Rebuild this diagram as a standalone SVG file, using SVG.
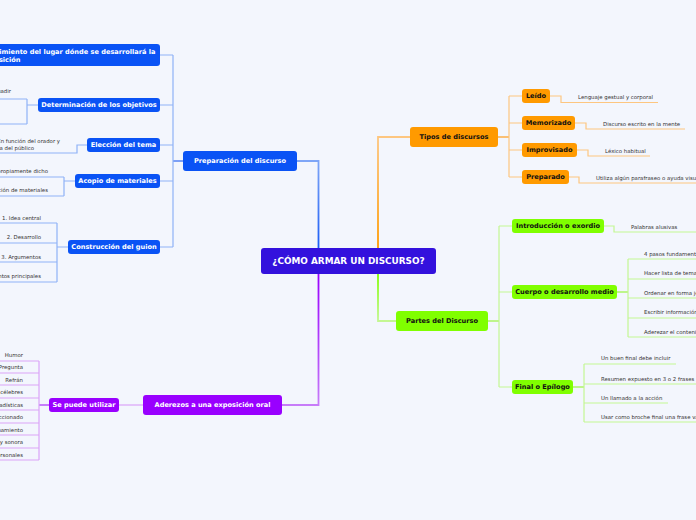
<svg xmlns="http://www.w3.org/2000/svg" width="696" height="520" viewBox="0 0 696 520">
<defs>
<style>
.bg{fill:#f3f6fd}
.nb{fill:#0a53f5}
.no{fill:#ff9a00}
.ng{fill:#80ff00}
.np{fill:#9900ff}
.nc{fill:#3311dd}
.tw{font-family:"DejaVu Sans",Verdana,sans-serif;font-weight:bold;font-size:6.6px;fill:#ffffff}
.tk{font-family:"DejaVu Sans",Verdana,sans-serif;font-weight:bold;font-size:6.6px;fill:#111111}
.tc{font-family:"DejaVu Sans",Verdana,sans-serif;font-weight:bold;font-size:8.9px;fill:#ffffff}
.tl{font-family:"DejaVu Sans",Verdana,sans-serif;font-size:5.4px;fill:#333333}
.cb{fill:none;stroke:#8fb2f7;stroke-width:1.2}
.cbd{fill:none;stroke:#4a7cf3;stroke-width:1.4}
.co{fill:none;stroke:#fdc680;stroke-width:1.2}
.cod{fill:none;stroke:#fcaa3a;stroke-width:1.4}
.cg{fill:none;stroke:#c4f793;stroke-width:1.2}
.cgd{fill:none;stroke:#a6f55a;stroke-width:1.4}
.cp{fill:none;stroke:#dba4f8;stroke-width:1.2}
.cpd{fill:none;stroke:#b24cf9;stroke-width:1.4}
</style>
<linearGradient id="gB" gradientUnits="userSpaceOnUse" x1="0" y1="248" x2="0" y2="161"><stop offset="0" stop-color="#1a5cf6"/><stop offset="1" stop-color="#7fa6f7"/></linearGradient>
<linearGradient id="gO" gradientUnits="userSpaceOnUse" x1="0" y1="248" x2="0" y2="137"><stop offset="0" stop-color="#ff9a00"/><stop offset="1" stop-color="#fdc680"/></linearGradient>
<linearGradient id="gG" gradientUnits="userSpaceOnUse" x1="0" y1="274" x2="0" y2="321"><stop offset="0" stop-color="#80ff00"/><stop offset="1" stop-color="#c4f793"/></linearGradient>
<linearGradient id="gP" gradientUnits="userSpaceOnUse" x1="0" y1="274" x2="0" y2="405"><stop offset="0" stop-color="#9900ff"/><stop offset="1" stop-color="#c77cf9"/></linearGradient>
</defs>
<rect class="bg" x="0" y="0" width="696" height="520"/>

<g id="connectors">
<path d="M318.5,248 V161 H297" fill="none" stroke="url(#gB)" stroke-width="1.8"/>
<path d="M378,248 V137 H410" fill="none" stroke="url(#gO)" stroke-width="1.8"/>
<path d="M378,274 V321 H396" fill="none" stroke="url(#gG)" stroke-width="1.8"/>
<path d="M318.5,274 V405 H282" fill="none" stroke="url(#gP)" stroke-width="1.8"/>

<path class="cbd" d="M183,161 H173"/>
<path class="cb" d="M173,55 V247 M173,55 H160 M173,105 H160 M173,145 H160 M173,181 H160 M173,247 H160"/>
<path class="cb" d="M38,105 H27 M27,99 V124 M-5,99 H27 M-5,124 H27"/>
<path class="cb" d="M87,145 H77 V153 H-5"/>
<path class="cb" d="M75,181 H64 M64,177 V196 M-5,177 H64 M-5,196 H64"/>
<path class="cb" d="M68,247 H57 M57,223 V282 M-5,223 H57 M-5,243 H57 M-5,262 H57 M-5,282 H57"/>

<path class="cp" d="M143,405 H119"/>
<path class="cpd" d="M49,405 H39"/>
<path class="cp" d="M39,361 V460 M-5,361 H39 M-5,373 H39 M-5,385 H39 M-5,398 H39 M-5,410 H39 M-5,423 H39 M-5,435 H39 M-5,448 H39 M-5,460 H39"/>

<path class="cod" d="M498,137 H509"/>
<path class="co" d="M509,96 V177 M509,96 H522 M509,123 H522 M509,150 H522 M509,177 H522"/>
<path class="co" d="M550,96 H561 V102.5 H658"/>
<path class="co" d="M575,123 H586 V129 H685"/>
<path class="co" d="M577,150 H588 V156 H650"/>
<path class="co" d="M569,177 H579 V183 H700"/>

<path class="cgd" d="M488,321 H499"/>
<path class="cg" d="M499,226 V387 M499,226 H512 M499,292 H512 M499,387 H512"/>
<path class="cg" d="M604,226 H614 V232 H700"/>
<path class="cgd" d="M617,292 H628"/>
<path class="cg" d="M628,259 V337 M628,259 H700 M628,279 H700 M628,298 H700 M628,318 H700 M628,337 H700"/>
<path class="cgd" d="M573,387 H584"/>
<path class="cg" d="M584,364 V422 M584,364 H676 M584,384 H700 M584,403 H668 M584,422 H700"/>
</g>

<g id="central"><rect class="nc" x="261" y="248" width="175" height="26" rx="3"/><text class="tc" x="348.5" y="264.2" text-anchor="middle">¿CÓMO ARMAR UN DISCURSO?</text></g>

<g id="preparacion"><rect class="nb" x="183" y="151" width="114" height="20" rx="3"/><text class="tw" x="240" y="163.4" text-anchor="middle">Preparación del discurso</text></g>
<g id="conocimiento"><rect class="nb" x="-30" y="44" width="190" height="22" rx="3"/><text class="tw" x="155.5" y="53.9" text-anchor="end">Conocimiento del lugar dónde se desarrollará la</text><text class="tw" x="20.5" y="61.7" text-anchor="end">exposición</text></g>
<g id="objetivos"><rect class="nb" x="38" y="98" width="122" height="14" rx="3"/><text class="tw" x="99" y="107.4" text-anchor="middle">Determinación de los objetivos</text></g>
<g id="leaf-persuadir"><text class="tl" x="11" y="93" text-anchor="end">Persuadir</text></g>
<g id="tema"><rect class="nb" x="87" y="138" width="73" height="14" rx="3"/><text class="tw" x="123.5" y="147.4" text-anchor="middle">Elección del tema</text></g>
<g id="leaf-funcion"><text class="tl" x="60" y="143" text-anchor="end">En función del orador y</text><text class="tl" x="34" y="150.2" text-anchor="end">la del público</text></g>
<g id="acopio"><rect class="nb" x="75" y="174" width="85" height="14" rx="3"/><text class="tw" x="117.5" y="183.4" text-anchor="middle">Acopio de materiales</text></g>
<g id="leaf-acopio1"><text class="tl" x="48" y="173" text-anchor="end">Acopio propiamente dicho</text></g>
<g id="leaf-acopio2"><text class="tl" x="48" y="192" text-anchor="end">Selección de materiales</text></g>
<g id="guion"><rect class="nb" x="68" y="240" width="92" height="14" rx="3"/><text class="tw" x="114" y="249.4" text-anchor="middle">Construcción del guion</text></g>
<g id="leaf-g1"><text class="tl" x="41" y="219.5" text-anchor="end">1. Idea central</text></g>
<g id="leaf-g2"><text class="tl" x="41" y="239" text-anchor="end">2. Desarrollo</text></g>
<g id="leaf-g3"><text class="tl" x="41" y="258.5" text-anchor="end">3. Argumentos</text></g>
<g id="leaf-g4"><text class="tl" x="41" y="278" text-anchor="end">4. Puntos principales</text></g>

<g id="aderezos"><rect class="np" x="143" y="395" width="139" height="20" rx="3"/><text class="tw" x="212.5" y="407.4" text-anchor="middle">Aderezos a una exposición oral</text></g>
<g id="sepuede"><rect class="np" x="49" y="398" width="70" height="14" rx="3"/><text class="tw" x="84" y="407.4" text-anchor="middle">Se puede utilizar</text></g>
<g id="leaf-a1"><text class="tl" x="23" y="357" text-anchor="end">Humor</text></g>
<g id="leaf-a2"><text class="tl" x="23" y="369" text-anchor="end">Pregunta</text></g>
<g id="leaf-a3"><text class="tl" x="23" y="381.5" text-anchor="end">Refrán</text></g>
<g id="leaf-a4"><text class="tl" x="23" y="394" text-anchor="end">Frases célebres</text></g>
<g id="leaf-a5"><text class="tl" x="23" y="406.5" text-anchor="end">Estadísticas</text></g>
<g id="leaf-a6"><text class="tl" x="23" y="419" text-anchor="end">Ejemplo seleccionado</text></g>
<g id="leaf-a7"><text class="tl" x="23" y="431.5" text-anchor="end">Razonamiento</text></g>
<g id="leaf-a8"><text class="tl" x="23" y="444" text-anchor="end">Ayuda visual y sonora</text></g>
<g id="leaf-a9"><text class="tl" x="23" y="456.5" text-anchor="end">Anécdotas personales</text></g>

<g id="tipos"><rect class="no" x="410" y="127" width="88" height="20" rx="3"/><text class="tk" x="454" y="139.4" text-anchor="middle">Tipos de discursos</text></g>
<g id="leido"><rect class="no" x="522" y="89" width="28" height="14" rx="3"/><text class="tk" x="536" y="98.4" text-anchor="middle">Leído</text></g>
<g id="memorizado"><rect class="no" x="522" y="116" width="53" height="14" rx="3"/><text class="tk" x="548.5" y="125.4" text-anchor="middle">Memorizado</text></g>
<g id="improvisado"><rect class="no" x="522" y="143" width="55" height="14" rx="3"/><text class="tk" x="549.5" y="152.4" text-anchor="middle">Improvisado</text></g>
<g id="preparado"><rect class="no" x="522" y="170" width="47" height="14" rx="3"/><text class="tk" x="545.5" y="179.4" text-anchor="middle">Preparado</text></g>
<g id="leaf-o1"><text class="tl" x="578" y="99">Lenguaje gestual y corporal</text></g>
<g id="leaf-o2"><text class="tl" x="603" y="126">Discurso escrito en la mente</text></g>
<g id="leaf-o3"><text class="tl" x="605" y="153">Léxico habitual</text></g>
<g id="leaf-o4"><text class="tl" x="596" y="180">Utiliza algún parafraseo o ayuda visual</text></g>

<g id="partes"><rect class="ng" x="396" y="311" width="92" height="20" rx="3"/><text class="tk" x="442" y="323.4" text-anchor="middle">Partes del Discurso</text></g>
<g id="introduccion"><rect class="ng" x="512" y="219" width="92" height="14" rx="3"/><text class="tk" x="558" y="228.4" text-anchor="middle">Introducción o exordio</text></g>
<g id="cuerpo"><rect class="ng" x="512" y="285" width="105" height="14" rx="3"/><text class="tk" x="564.5" y="294.4" text-anchor="middle">Cuerpo o desarrollo medio</text></g>
<g id="final"><rect class="ng" x="512" y="380" width="61" height="14" rx="3"/><text class="tk" x="542.5" y="389.4" text-anchor="middle">Final o Epílogo</text></g>
<g id="leaf-i1"><text class="tl" x="631" y="229">Palabras alusivas</text></g>
<g id="leaf-c1"><text class="tl" x="644" y="255.5">4 pasos fundamentales</text></g>
<g id="leaf-c2"><text class="tl" x="644" y="275">Hacer lista de temas</text></g>
<g id="leaf-c3"><text class="tl" x="644" y="294.5">Ordenar en forma jerárquica</text></g>
<g id="leaf-c4"><text class="tl" x="644" y="314">Escribir información</text></g>
<g id="leaf-c5"><text class="tl" x="644" y="333.5">Aderezar el contenido</text></g>
<g id="leaf-f1"><text class="tl" x="601" y="360">Un buen final debe incluir</text></g>
<g id="leaf-f2"><text class="tl" x="601" y="380.5">Resumen expuesto en 3 o 2 frases</text></g>
<g id="leaf-f3"><text class="tl" x="601" y="399.5">Un llamado a la acción</text></g>
<g id="leaf-f4"><text class="tl" x="601" y="419">Usar como broche final una frase valiosa</text></g>
</svg>
